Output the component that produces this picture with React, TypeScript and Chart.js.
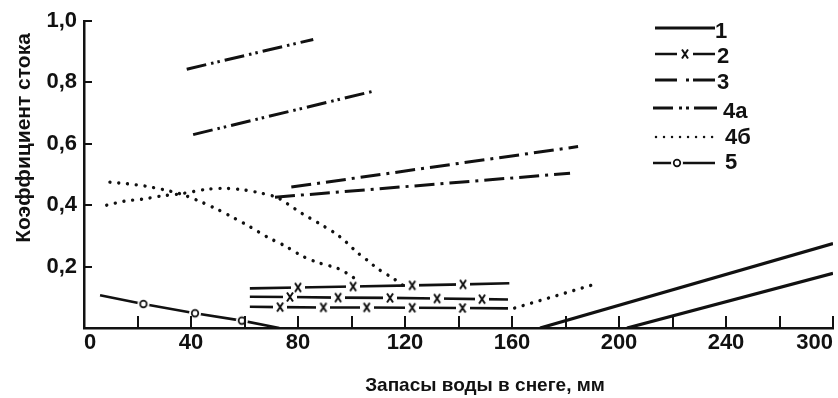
import React, { useEffect, useRef } from 'react';
import { Chart, registerables } from 'chart.js';

Chart.register(...registerables);

// ---- axis ticks ----
const xTickValues = [0, 40, 80, 120, 160, 200, 240, 280];
const xTickLabels = ['0', '40', '80', '120', '160', '200', '240', '300'];
const xMinorTicks = [20, 40, 60, 80, 100, 120, 140, 160, 180, 200, 220, 240, 260, 280];
const yTickValues = [0, 0.2, 0.4, 0.6, 0.8, 1.0];
const yTickLabels = ['', '0,2', '0,4', '0,6', '0,8', '1,0'];

const xTitle = 'Запасы воды в снеге, мм';
const yTitle = 'Коэффициент стока';
const legendLabels = ['1', '2', '3', '4а', '4б', '5'];

// ---- series 1 (solid) ----
const s1aX = [170.5, 280];
const s1aY = [0, 0.275];
const s1bX = [203, 280];
const s1bY = [0, 0.178];

// ---- series 2 (dashes with x) ----
const s2aX = [62, 80, 100.6, 122.7, 141.7, 159];
const s2aY = [0.129, 0.132, 0.135, 0.139, 0.142, 0.146];
const s2aMark = [0, 1, 1, 1, 1, 0];
const s2bX = [62, 77, 95, 114.4, 132, 148.8, 158.5];
const s2bY = [0.102, 0.101, 0.099, 0.098, 0.096, 0.094, 0.093];
const s2bMark = [0, 1, 1, 1, 1, 1, 0];
const s2cX = [62, 73.3, 89.5, 105.7, 122.7, 141.5, 158.5];
const s2cY = [0.069, 0.068, 0.067, 0.067, 0.066, 0.065, 0.064];
const s2cMark = [0, 1, 1, 1, 1, 1, 0];

// ---- series 3 (dash-dot) ----
const s3aX = [77.5, 184.7];
const s3aY = [0.459, 0.591];
const s3bX = [71.4, 181.7];
const s3bY = [0.426, 0.504];

// ---- series 4a (dash-dot-dot) ----
const s4a1X = [38.4, 85.7];
const s4a1Y = [0.843, 0.94];
const s4a2X = [40.8, 107.5];
const s4a2Y = [0.63, 0.77];

// ---- series 4б (dotted) ----
const s4bAX = [9.7, 16, 23, 30, 36, 42.6, 49, 55.7, 62, 68.8, 75, 81.5, 87.5, 94.6, 98, 101, 102];
const s4bAY = [0.475, 0.47, 0.462, 0.45, 0.437, 0.415, 0.39, 0.36, 0.33, 0.295, 0.268, 0.235, 0.213, 0.195, 0.18, 0.162, 0.142];
const s4bBX = [8.5, 15, 22, 29, 36, 46, 52.7, 59.6, 65.8, 72, 76, 81.5, 88, 94, 98, 102, 106, 110, 115.5, 120];
const s4bBY = [0.4, 0.413, 0.42, 0.43, 0.437, 0.452, 0.455, 0.45, 0.44, 0.426, 0.405, 0.373, 0.34, 0.308, 0.28, 0.247, 0.22, 0.192, 0.162, 0.134];
const s4bCX = [161, 190];
const s4bCY = [0.065, 0.14];

// ---- series 5 (dashes with o) ----
const s5X = [6, 22.2, 41.5, 59, 73];
const s5Y = [0.107, 0.078, 0.048, 0.024, 0];
const s5Mark = [0, 1, 1, 1, 0];

const INK = '#111';
const NARROW = '"Liberation Sans Narrow", "Arial Narrow", "Liberation Sans", Arial, sans-serif';
const SANS = '"Liberation Sans", Arial, sans-serif';

const DASH3 = [20, 6, 3, 6];
const DASH4A = [20, 5, 2.5, 4, 2.5, 5];
const DOTS = [0.01, 8.8];

function pts(xs: number[], ys: number[]) {
  return xs.map((x, i) => ({ x, y: ys[i] }));
}

function makeXMark() {
  const c = document.createElement('canvas');
  c.width = 14;
  c.height = 14;
  const g = c.getContext('2d')!;
  g.fillStyle = '#fff';
  g.fillRect(0, 4, 14, 6);
  g.strokeStyle = INK;
  g.lineWidth = 2;
  g.beginPath();
  g.moveTo(4, 2.5);
  g.lineTo(10, 11.5);
  g.moveTo(10, 2.5);
  g.lineTo(4, 11.5);
  g.stroke();
  return c;
}

function makeOMark() {
  const c = document.createElement('canvas');
  c.width = 14;
  c.height = 14;
  const g = c.getContext('2d')!;
  g.fillStyle = '#fff';
  g.beginPath();
  g.arc(7, 7, 6, 0, Math.PI * 2);
  g.fill();
  g.strokeStyle = INK;
  g.lineWidth = 1.7;
  g.beginPath();
  g.arc(7, 7, 3.3, 0, Math.PI * 2);
  g.stroke();
  return c;
}

export default function App() {
  const ref = useRef<HTMLCanvasElement | null>(null);

  useEffect(() => {
    document.body.style.margin = '0';
    const canvas = ref.current;
    if (!canvas) return;
    const xMark = makeXMark();
    const oMark = makeOMark();

    const line = (xs: number[], ys: number[], extra: any = {}) => ({
      data: pts(xs, ys),
      showLine: true,
      borderColor: INK,
      backgroundColor: INK,
      borderWidth: 3,
      pointRadius: 0,
      tension: 0,
      fill: false,
      ...extra,
    });

    const marked = (xs: number[], ys: number[], marks: number[], img: HTMLCanvasElement, width: number) =>
      line(xs, ys, {
        borderWidth: width,
        pointStyle: img,
        pointRadius: marks.map((m) => (m ? 5 : 0)),
      });

    const dotted = (xs: number[], ys: number[], tension: number) =>
      line(xs, ys, { borderDash: DOTS, borderCapStyle: 'round', borderWidth: 3.4, tension });

    const decor = {
      id: 'decor',
      afterDraw(chart: any) {
        const { ctx, chartArea: a } = chart;
        const xs = chart.scales.x;
        const ys = chart.scales.y;
        ctx.save();
        ctx.strokeStyle = INK;
        ctx.lineWidth = 2;
        ctx.setLineDash([]);
        ctx.beginPath();
        xMinorTicks.forEach((v) => {
          const px = Math.round(xs.getPixelForValue(v));
          ctx.moveTo(px, a.bottom);
          ctx.lineTo(px, a.bottom - 12);
        });
        yTickValues.forEach((v) => {
          if (v === 0) return;
          const py = Math.round(ys.getPixelForValue(v));
          ctx.moveTo(a.left, py);
          ctx.lineTo(a.left + 8, py);
        });
        ctx.stroke();

        // axis titles
        ctx.fillStyle = INK;
        ctx.textAlign = 'center';
        ctx.textBaseline = 'alphabetic';
        ctx.font = `bold 19px ${SANS}`;
        ctx.fillText(xTitle, 485, 391);
        ctx.save();
        ctx.translate(30, 138);
        ctx.rotate(-Math.PI / 2);
        ctx.font = `bold 21px ${SANS}`;
        ctx.fillText(yTitle, 0, 0);
        ctx.restore();

        // legend
        const lineYs = [28, 54, 80, 108, 137, 163];
        const textYs = [32, 57, 83, 112, 138, 163];
        const textXs = [715, 717, 717, 723, 725, 725];
        const seg = (x1: number, x2: number, y: number, dash: number[] = []) => {
          ctx.setLineDash(dash);
          ctx.beginPath();
          ctx.moveTo(x1, y);
          ctx.lineTo(x2, y);
          ctx.stroke();
        };
        ctx.lineWidth = 3;
        seg(655, 715, lineYs[0]);
        ctx.lineWidth = 2.5;
        seg(655, 677, lineYs[1]);
        seg(693, 715, lineYs[1]);
        ctx.drawImage(xMark, 685 - 7, lineYs[1] - 7);
        ctx.lineWidth = 3;
        seg(655, 677, lineYs[2]);
        seg(686, 689, lineYs[2]);
        seg(693, 715, lineYs[2]);
        seg(653, 673, lineYs[3]);
        seg(679, 682, lineYs[3]);
        seg(686, 689, lineYs[3]);
        seg(694, 717, lineYs[3]);
        ctx.lineWidth = 2.5;
        ctx.lineCap = 'round';
        seg(656, 716, lineYs[4], [0.01, 8]);
        ctx.lineCap = 'butt';
        seg(653, 715, lineYs[5]);
        ctx.drawImage(oMark, 677 - 7, lineYs[5] - 7);
        ctx.setLineDash([]);

        ctx.font = `bold 22px ${NARROW}`;
        ctx.textAlign = 'left';
        ctx.textBaseline = 'middle';
        legendLabels.forEach((t, i) => ctx.fillText(t, textXs[i], textYs[i]));
        ctx.restore();
      },
    };

    const chart = new Chart(canvas, {
      type: 'scatter',
      data: {
        datasets: [
          line(s1aX, s1aY, { borderWidth: 3.2 }),
          line(s1bX, s1bY, { borderWidth: 3.2 }),
          marked(s2aX, s2aY, s2aMark, xMark, 2.6),
          marked(s2bX, s2bY, s2bMark, xMark, 2.6),
          marked(s2cX, s2cY, s2cMark, xMark, 2.6),
          line(s3aX, s3aY, { borderDash: DASH3 }),
          line(s3bX, s3bY, { borderDash: DASH3 }),
          line(s4a1X, s4a1Y, { borderDash: DASH4A }),
          line(s4a2X, s4a2Y, { borderDash: DASH4A }),
          dotted(s4bAX, s4bAY, 0.3),
          dotted(s4bBX, s4bBY, 0.3),
          dotted(s4bCX, s4bCY, 0),
          marked(s5X, s5Y, s5Mark, oMark, 2.6),
        ] as any,
      },
      options: {
        responsive: false,
        animation: false,
        events: [],
        layout: { padding: { top: 21, right: 5, left: 0, bottom: 0 } },
        plugins: {
          legend: { display: false },
          tooltip: { enabled: false },
        },
        scales: {
          x: {
            type: 'linear',
            min: 0,
            max: 280,
            afterBuildTicks: (s: any) => {
              s.ticks = xTickValues.map((value) => ({ value }));
            },
            afterFit: (s: any) => {
              s.height = 70;
              s.paddingLeft = 0;
              s.paddingRight = 0;
            },
            grid: { display: true, drawOnChartArea: false, drawTicks: false, color: 'rgba(0,0,0,0)', lineWidth: 1 },
            border: { display: true, color: INK, width: 2.5 },
            ticks: {
              autoSkip: false,
              maxRotation: 0,
              align: 'inner',
              padding: 2,
              color: INK,
              font: { family: NARROW, size: 22, weight: 'bold' },
              callback: (v: any) => {
                const i = xTickValues.indexOf(Number(v));
                return i >= 0 ? xTickLabels[i] : '';
              },
            },
          },
          y: {
            type: 'linear',
            min: 0,
            max: 1,
            afterBuildTicks: (s: any) => {
              s.ticks = yTickValues.map((value) => ({ value }));
            },
            afterFit: (s: any) => {
              s.width = 84;
              s.paddingTop = 0;
              s.paddingBottom = 0;
            },
            grid: { display: true, drawOnChartArea: false, drawTicks: false, color: 'rgba(0,0,0,0)', lineWidth: 1 },
            border: { display: true, color: INK, width: 2.5 },
            ticks: {
              autoSkip: false,
              padding: 7,
              color: INK,
              font: { family: NARROW, size: 22, weight: 'bold' },
              callback: (v: any) => {
                const i = yTickValues.indexOf(Number(v));
                return i >= 0 ? yTickLabels[i] : '';
              },
            },
          },
        },
      },
      plugins: [decor],
    } as any);

    return () => chart.destroy();
  }, []);

  return (
    <div style={{ width: 838, height: 398, background: '#fff' }}>
      <canvas ref={ref} width={838} height={398} />
    </div>
  );
}
